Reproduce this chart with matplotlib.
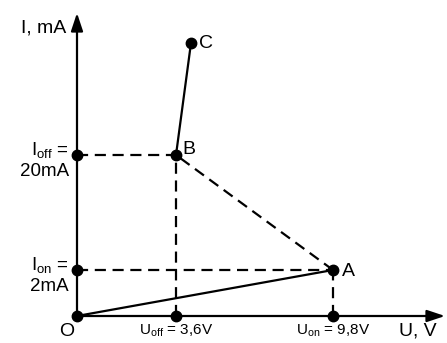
import matplotlib
matplotlib.use('Agg')
import matplotlib.pyplot as plt

plt.rcParams['font.family'] = ['Liberation Sans', 'DejaVu Sans']
plt.rcParams['mathtext.fontset'] = 'custom'
plt.rcParams['mathtext.rm'] = 'Liberation Sans'
plt.rcParams['mathtext.it'] = 'Liberation Sans'

# schematic positions (diagram units, origin at O); the plot is not to scale
point_names = ['O', 'A', 'B', 'C']
point_x = [0, 256, 99, 114]
point_y = [0, 46, 161, 273]

# characteristic: O -> A (solid), A -> B (dashed jump), B -> C (solid)
u_ticks = [99, 256]
u_labels = [r'U$_{\mathrm{off}}$ = 3,6V', r'U$_{\mathrm{on}}$ = 9,8V']
i_ticks = [161, 46]
i_labels = [r'I$_{\mathrm{off}}$ =' + '\n20mA', r'I$_{\mathrm{on}}$ =' + '\n2mA']

x_axis_end = 368
y_axis_end = 303

fig = plt.figure(figsize=(4.47, 3.43), dpi=100)
ax = fig.add_axes([0, 0, 1, 1])
ax.set_xlim(-77, 370)
ax.set_ylim(-27, 316)
ax.axis('off')

P = dict(zip(point_names, zip(point_x, point_y)))
lw = 1.6
dash = (5, 3)

# axes with arrows
for tip in [(x_axis_end, 0), (0, y_axis_end)]:
    ax.annotate('', xy=tip, xytext=(0, 0),
                arrowprops=dict(arrowstyle='-|>,head_length=0.6,head_width=0.2',
                                lw=lw, color='k', mutation_scale=18,
                                shrinkA=0, shrinkB=0))

# projection lines
for xv, yv in [P['B'], P['A']]:
    ax.plot([0, xv], [yv, yv], color='k', lw=lw, dashes=dash)
    ax.plot([xv, xv], [0, yv], color='k', lw=lw, dashes=dash)

# branches
ax.plot([P['O'][0], P['A'][0]], [P['O'][1], P['A'][1]], color='k', lw=lw)
ax.plot([P['A'][0], P['B'][0]], [P['A'][1], P['B'][1]], color='k', lw=lw, dashes=dash)
ax.plot([P['B'][0], P['C'][0]], [P['B'][1], P['C'][1]], color='k', lw=lw)

# dots
ax.plot(point_x, point_y, 'o', color='k', ms=7.5, zorder=5)
ax.plot(u_ticks, [0] * len(u_ticks), 'o', color='k', ms=7.5, zorder=5)
ax.plot([0] * len(i_ticks), i_ticks, 'o', color='k', ms=7.5, zorder=5)

# point labels
ax.text(P['A'][0] + 9, P['A'][1] - 1, 'A', fontsize=14, ha='left', va='center')
ax.text(P['B'][0] + 6, P['B'][1] + 6, 'B', fontsize=14, ha='left', va='center')
ax.text(P['C'][0] + 8, P['C'][1], 'C', fontsize=14, ha='left', va='center')
ax.text(-10, -15, 'O', fontsize=14, ha='center', va='center')

# axis labels
ax.text(-11, 288, 'I, mA', fontsize=14, ha='right', va='center')
ax.text(341, -15, 'U, V', fontsize=14, ha='center', va='center')

for xv, lab in zip(u_ticks, u_labels):
    ax.text(xv, -15, lab, fontsize=11, ha='center', va='center')
for yv, lab in zip(i_ticks, i_labels):
    ax.text(-8, yv - 5, lab, fontsize=13.5, ha='right', va='center', linespacing=1.2)

fig.savefig('out.png', dpi=100)
